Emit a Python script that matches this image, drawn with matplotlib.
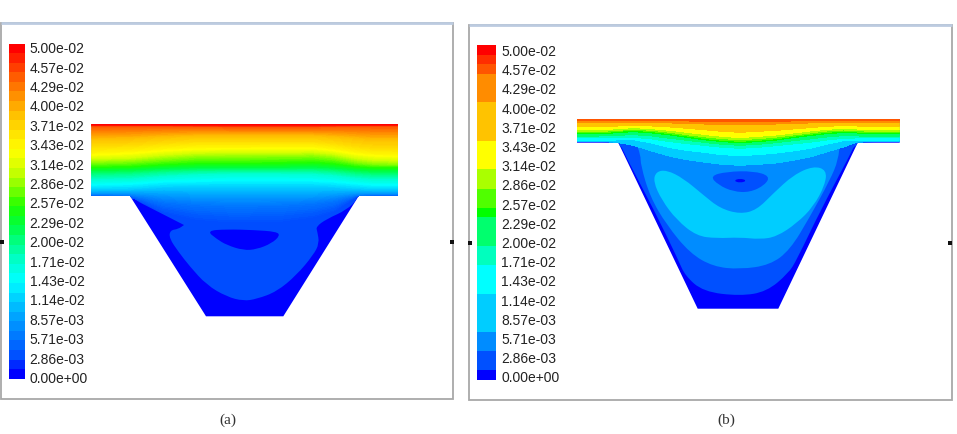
import matplotlib
matplotlib.use('Agg')
import matplotlib.pyplot as plt
import matplotlib.colors as colors
from matplotlib.patches import PathPatch, Polygon, Rectangle
from matplotlib.path import Path
import numpy as np

plt.rcParams['font.family'] = ['Liberation Sans', 'DejaVu Sans']

legend_labels = ['0.00e+00', '2.86e-03', '5.71e-03', '8.57e-03', '1.14e-02', '1.43e-02',
                 '1.71e-02', '2.00e-02', '2.29e-02', '2.57e-02', '2.86e-02', '3.14e-02',
                 '3.43e-02', '3.71e-02', '4.00e-02', '4.29e-02', '4.57e-02', '5.00e-02']

# colour scale shared by the contours, 35 cells from 0 to 0.05
n_cells = 35
vmax = 0.05
cell = vmax / n_cells
scale_values = [0, 0.00286, 0.00571, 0.00857, 0.0114, 0.0143, 0.0171, 0.02, 0.0229, 0.0257,
                0.0286, 0.0314, 0.0343, 0.0371, 0.04, 0.0429, 0.0457, 0.05]
scale_colors = ['#0000ff', '#0050ff', '#0078ff', '#00a0ff', '#00cdff', '#00ffff',
                '#00ffd2', '#00ff8c', '#00ff3c', '#1eff00', '#82ff00', '#d2ff00',
                '#ffff00', '#ffe100', '#ffbe00', '#ff8c00', '#ff5a00', '#ff0000']

# panel (a), channel outline
a_channel = [(91.7, 124.3), (397.7, 124.3), (397.7, 196), (358.7, 196),
             (283.3, 316.3), (206, 316.3), (130, 196), (91.7, 196)]

# panel (a), height of each contour along the channel, in thirds of a pixel from (80, 115)
a_stations = [35, 150, 250, 350, 450, 500, 600, 700, 760, 830, 880, 953]
a_cells = [35, 32, 28, 26, 24, 22, 20, 18, 16, 14, 12, 10, 8, 6, 4, 2]
a_depths = [
    [28, 28, 28, 28, 28, 28, 28, 28, 28, 28, 28, 28],
    [33, 33, 33, 34, 35, 35, 35, 35, 34, 33, 33, 33],
    [70, 68, 63, 60, 60, 60, 60, 60, 63, 68, 72, 72],
    [95, 92, 85, 80, 80, 80, 80, 80, 85, 95, 100, 100],
    [118, 113, 105, 100, 99, 99, 98, 98, 104, 115, 120, 122],
    [130, 127, 118, 112, 111, 111, 111, 110, 115, 128, 133, 135],
    [142, 139, 132, 126, 125, 125, 124, 123, 128, 141, 146, 148],
    [155, 153, 147, 143, 143, 143, 142, 140, 144, 153, 156, 156],
    [165, 163, 158, 156, 155, 155, 155, 154, 157, 163, 166, 166],
    [178, 175, 169, 166, 165, 165, 165, 165, 168, 175, 178, 178],
    [192, 190, 182, 177, 175, 175, 175, 176, 180, 188, 192, 192],
    [208, 205, 198, 196, 194, 194, 194, 195, 198, 204, 208, 208],
    [222, 221, 216, 214, 214, 214, 214, 214, 216, 220, 222, 222],
    [232, 232, 236, 240, 241, 241, 241, 240, 236, 232, 232, 232],
    [238, 240, 258, 266, 270, 270, 268, 262, 255, 240, 238, 238],
    [242, 244, 290, 312, 320, 320, 318, 305, 288, 244, 242, 242],
]

# panel (a), closed regions in the lower part of the channel
a_regions = [
    (0.00286, [(312, 330), (312, 330), (220, 283), (155, 250), (150, 225), (830, 225), (835, 250),
               (800, 285), (740, 312), (708, 335), (712, 350), (718, 385), (700, 420),
               (650, 480), (590, 530), (530, 552), (490, 558), (440, 545), (380, 510),
               (330, 455), (295, 410), (268, 370), (270, 346), (295, 342)]),
    (0.0, [(380, 347), (440, 343), (520, 345), (590, 350), (600, 362), (575, 385),
           (530, 403), (490, 406), (440, 390), (410, 372)]),
]

# panel (b), channel outline
b_channel = [(577, 119), (899.7, 119), (899.7, 142.7), (857.7, 142.7),
             (778.3, 308.7), (697.7, 308.7), (618.3, 142.7), (577, 142.7)]

# panel (b) contours, in thirds of a pixel from (570, 110)
b_stations = [21, 100, 145, 190, 245, 300, 350, 400, 455, 510, 565, 620, 670, 720, 770, 820, 860, 900, 989]
b_cells = [33, 32, 29, 25, 22, 20, 18, 17, 14, 12, 9, 5]
b_depths = [
    [27, 27, 27, 27, 27, 27, 27, 27, 27, 27, 27, 27, 27, 27, 27, 27, 27, 27, 27],
    [32, 32, 31, 31, 31, 32, 32, 33, 34, 34, 34, 33, 32, 32, 31, 31, 31, 32, 32],
    [38, 38, 37, 36, 37, 38, 39, 41, 43, 44, 43, 41, 39, 38, 36, 36, 37, 38, 38],
    [49, 49, 47, 45, 47, 50, 54, 58, 63, 66, 63, 60, 56, 52, 48, 46, 47, 49, 49],
    [59, 58, 55, 52, 55, 60, 66, 72, 78, 82, 78, 74, 68, 62, 57, 54, 56, 58, 59],
    [64, 63, 60, 57, 60, 66, 73, 79, 85, 88, 85, 80, 74, 68, 62, 59, 61, 63, 64],
    [68, 67, 63, 60, 64, 70, 77, 84, 90, 93, 90, 85, 78, 72, 66, 63, 65, 67, 68],
    [71, 70, 67, 64, 68, 74, 81, 88, 94, 97, 94, 89, 82, 76, 70, 67, 68, 70, 71],
    [78, 77, 75, 73, 77, 84, 90, 96, 102, 105, 102, 97, 91, 86, 80, 76, 77, 78, 78],
    [83, 82, 82, 81, 86, 94, 100, 105, 111, 114, 111, 106, 101, 96, 89, 84, 83, 83, 83],
    [90, 90, 89, 88, 98, 112, 120, 126, 133, 136, 133, 128, 122, 114, 102, 91, 90, 90, 90],
    [94, 94, 97, 105, 122, 138, 148, 155, 162, 165, 162, 158, 150, 140, 125, 110, 96, 94, 94],
]

# panel (b), merged colour bands of the scale
b_band_cells = [0, 1, 3, 5, 9, 12, 14, 17, 18, 20, 22, 25, 29, 32, 33, 34, 35]
b_band_colors = ['#0000ff', '#0050ff', '#008cff', '#00cdff', '#00ffff', '#00ffbe', '#00ff6e',
                 '#00ff00', '#50ff00', '#aaff00', '#ffff00', '#ffc300', '#ff8c00', '#ff5500',
                 '#ff2d00', '#ff0000']

# panel (b), closed regions in the lower part of the channel
b_regions = [
    (0.00286, [(10, 96), (10, 96), (148, 96), (165, 135), (252, 300), (325, 450), (345, 497),
               (400, 545), (510, 558), (590, 545), (655, 490), (680, 450), (752, 300),
               (840, 135), (858, 96), (1000, 96), (1000, 96), (1000, 60), (10, 60)]),
    (0.00571, [(10, 91), (10, 91), (195, 91), (212, 135), (212, 165), (240, 260), (290, 345),
               (360, 430), (430, 470), (510, 478), (600, 465), (660, 420), (720, 320),
               (780, 210), (805, 150), (810, 91), (1000, 91), (1000, 91), (1000, 60), (10, 60)]),
    (0.01, [(258, 185), (290, 180), (340, 205), (400, 255), (450, 295), (510, 312), (560, 300),
            (610, 250), (670, 195), (730, 168), (770, 180), (765, 225), (730, 290), (680, 340),
            (620, 380), (570, 388), (510, 382), (440, 385), (380, 378), (320, 330), (275, 270),
            (250, 215)]),
    (0.00571, [(420, 188), (500, 175), (560, 175), (610, 190), (600, 225), (540, 250),
               (490, 250), (440, 228)]),
    (0.00286, [(420, 198), (470, 185), (550, 183), (600, 198), (585, 225), (540, 247),
               (490, 245), (445, 225)]),
    (0.0, [(490, 212), (510, 205), (532, 212), (510, 219)]),
]


def smooth_closed(points):
    # quadratic curve through the midpoints of a closed polygon
    pts = np.array(points, dtype=float)
    mids = (pts + np.roll(pts, -1, axis=0)) / 2
    verts = [mids[-1]]
    codes = [Path.MOVETO]
    for p, m in zip(pts, mids):
        verts += [p, m]
        codes += [Path.CURVE3, Path.CURVE3]
    return Path(verts, codes)


def draw_channel(ax, outline, origin, stations, depths, row_cells, regions, levels, cmap, norm):
    base = Polygon(outline, closed=True, facecolor=cmap(norm(0.0)), edgecolor='none')
    ax.add_patch(base)

    for value, shape in regions:
        shape_px = [(origin[0] + x / 3, origin[1] + y / 3) for x, y in shape]
        patch = PathPatch(smooth_closed(shape_px), facecolor=cmap(norm(value)), edgecolor='none')
        ax.add_patch(patch)
        patch.set_clip_path(base)

    x = origin[0] + np.array(stations) / 3
    X = np.tile(x, (len(depths), 1))
    Y = origin[1] + np.array(depths) / 3
    Z = np.tile(np.array(row_cells)[:, None] * cell, (1, len(stations)))
    cs = ax.contourf(X, Y, Z, levels=levels, cmap=cmap, norm=norm)
    # hide the hairlines between neighbouring bands
    cs.set_edgecolor('face')
    cs.set_linewidth(0.4)
    cs.set_clip_path(base)


def draw_scale(ax, x0, x1, y_bottom, y_top, cmap, norm):
    y_edges = np.linspace(y_bottom, y_top, n_cells + 1)
    cell_values = ((np.arange(n_cells) + 0.5) * cell)[:, None]
    ax.pcolormesh([x0, x1], y_edges, cell_values, cmap=cmap, norm=norm)


def draw_frame(ax, x0, x1, y0, y1):
    ax.add_patch(Rectangle((x0, y0), x1 - x0, y1 - y0, facecolor='white', edgecolor='#a8a8a8', lw=1.3))
    ax.plot([x0, x1], [y0, y0], color='#bccbe0', lw=2, solid_capstyle='butt')
    for sx in (x0 + 1.5, x1 - 1.5):
        ax.add_patch(Rectangle((sx - 2, (y0 + y1) / 2 + 31 - 2), 4, 4, facecolor='#111111', edgecolor='none'))


fig = plt.figure(figsize=(9.57, 4.34), dpi=100)
ax = fig.add_axes([0, 0, 1, 1])
ax.set_xlim(0, 957)
ax.set_ylim(434, 0)
ax.axis('off')

draw_frame(ax, 0.7, 453, 23, 398.7)
draw_frame(ax, 468.7, 951.7, 24.5, 400)

# continuous field with a stepped scale bar for (a), merged bands for (b)
anchor_pos = np.array(scale_values) / vmax
anchors_a = list(zip(anchor_pos, scale_colors))
cmap_a = colors.LinearSegmentedColormap.from_list('field_a', anchors_a, N=256)
norm_a = colors.Normalize(0, vmax)
levels_a = np.linspace(2 * cell, vmax, 141)
cmap_a_bar = colors.LinearSegmentedColormap.from_list('bar_a', anchors_a, N=n_cells)

cmap_b = colors.ListedColormap(b_band_colors)
norm_b = colors.BoundaryNorm(np.array(b_band_cells) * cell, cmap_b.N)
levels_b = np.array(b_band_cells[3:-1]) * cell

draw_channel(ax, a_channel, (80, 115), a_stations, a_depths, a_cells, a_regions, levels_a, cmap_a, norm_a)
draw_channel(ax, b_channel, (570, 110), b_stations, b_depths, b_cells, b_regions, levels_b, cmap_b, norm_b)

draw_scale(ax, 9, 25, 378.7, 43.5, cmap_a_bar, norm_a)
draw_scale(ax, 477, 495.7, 380, 45, cmap_b, norm_b)

for label, y in zip(legend_labels, np.linspace(379, 49.3, len(legend_labels))):
    ax.text(29.7, y, label, fontsize=10, color='#222222', ha='left', va='center')
for label, y in zip(legend_labels, np.linspace(378.3, 52, len(legend_labels))):
    ax.text(501.5, y, label, fontsize=10, color='#222222', ha='left', va='center')

ax.text(228, 420, '(a)', fontsize=11, family=['Liberation Serif'], color='#333333', ha='center', va='center')
ax.text(726, 420, '(b)', fontsize=11, family=['Liberation Serif'], color='#333333', ha='center', va='center')

fig.savefig('out.png', dpi=100)
